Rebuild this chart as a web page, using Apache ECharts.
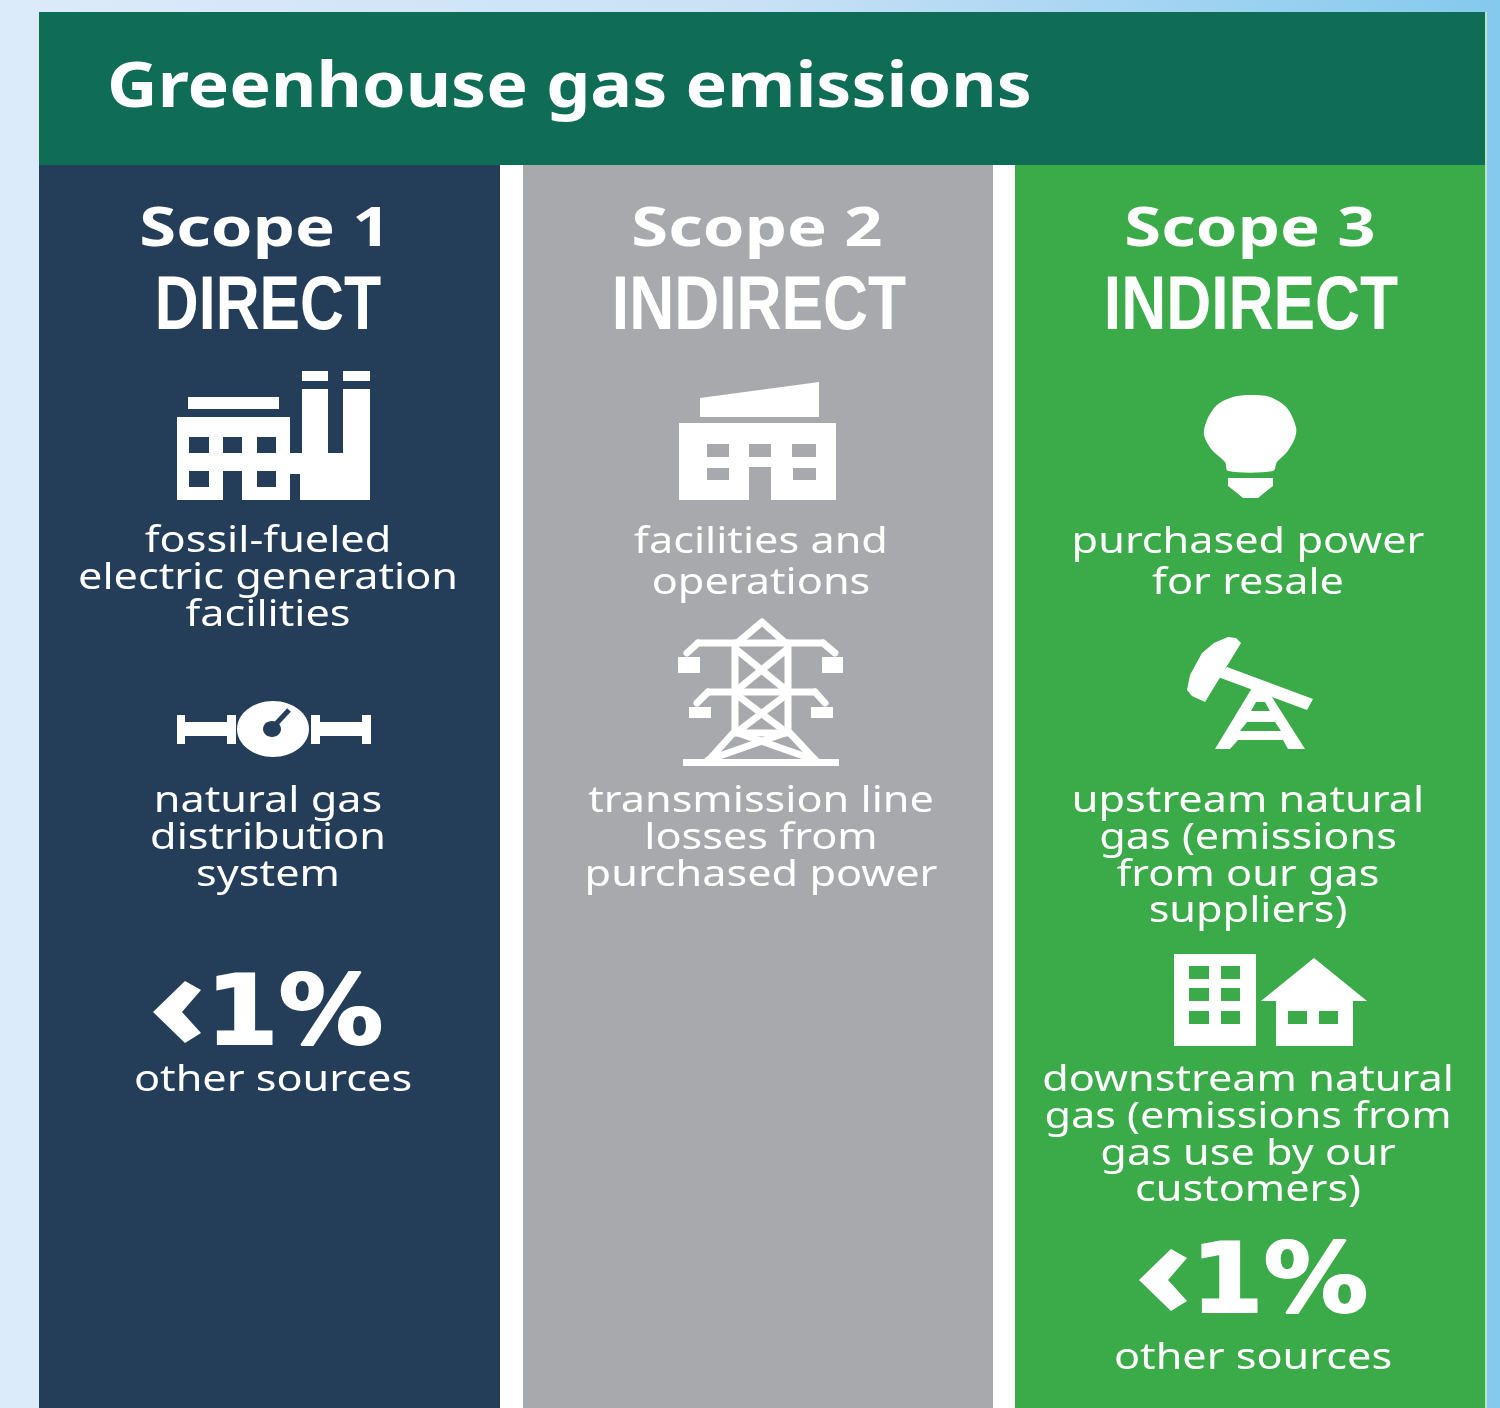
<!DOCTYPE html>
<html>
<head>
<meta charset="utf-8">
<title>Greenhouse gas emissions</title>
<script src="https://cdn.jsdelivr.net/npm/echarts@6/dist/echarts.min.js"></script>
<style>
  html, body { margin: 0; padding: 0; background: #cfe5f6; }
  #main { width: 1500px; height: 1408px; }
</style>
</head>
<body>
<div id="main"></div>
<script>
// Texts of the infographic
const chartTitle = "Greenhouse gas emissions";
const scopeNames = ["Scope 1", "Scope 2", "Scope 3"];
const scopeTypes = ["DIRECT", "INDIRECT", "INDIRECT"];
const scope1Lines = ["fossil-fueled", "electric generation", "facilities", "natural gas", "distribution", "system"];
const scope2Lines = ["facilities and", "operations", "transmission line", "losses from", "purchased power"];
const scope3Lines = ["purchased power", "for resale", "upstream natural", "gas (emissions", "from our gas", "suppliers)",
  "downstream natural", "gas (emissions from", "gas use by our", "customers)"];
const otherShare = ["<", "1%"];
const otherLabel = "other sources";

// Colours
const WHITE = "#ffffff";
const NAVY = "#243e5a";
const GREY = "#a7a9ac";
const GREEN = "#3bab49";
const TITLE_GREEN = "#0f6d55";

// Helpers for the graphic elements
const box = (x, y, w, h, fill) => ({
  type: "rect", shape: { x: x, y: y, width: w, height: h }, style: { fill: fill },
});
const poly = (points, fill, smooth) => ({
  type: "polygon", shape: { points: points, smooth: smooth || 0 }, style: { fill: fill },
});
const line = (points, width) => ({
  type: "polyline", shape: { points: points },
  style: { stroke: WHITE, lineWidth: width, fill: null, lineCap: "round", lineJoin: "round" },
});
const label = (text, cx, cy, font, stretch, extra) => ({
  type: "text", x: cx, y: cy, scaleX: stretch,
  style: Object.assign({ text: text, font: font, fill: WHITE, align: "center", verticalAlign: "middle" }, extra || {}),
});

const elements = [];

// Page background, panels
elements.push({
  type: "rect", shape: { x: 0, y: 0, width: 1500, height: 1408 },
  style: {
    fill: new echarts.graphic.LinearGradient(0, 0, 1, 0, [
      { offset: 0, color: "#dcebf9" },
      { offset: 0.5, color: "#c9e1f6" },
      { offset: 1, color: "#84c9ee" },
    ]),
  },
});
elements.push(box(39, 12, 1448, 1396, "#b9e3c4"));
elements.push(box(39, 12, 1446, 153, TITLE_GREEN));
elements.push(box(39, 165, 461, 1243, NAVY));
elements.push(box(500, 165, 23, 1243, WHITE));
elements.push(box(523, 165, 470, 1243, GREY));
elements.push(box(993, 165, 22, 1243, WHITE));
elements.push(box(1015, 165, 470, 1243, GREEN));

// Title
elements.push({
  type: "text", x: 107, y: 89, scaleX: 1.128,
  style: { text: chartTitle, font: "bold 62px 'Noto Sans'", fill: WHITE, align: "left", verticalAlign: "middle" },
});

// Column headers
const columnCenters = [265, 757, 1250];
const typeCenters = [268, 759, 1251];
const typeStretch = [0.8, 0.82, 0.82];
scopeNames.forEach((name, i) => {
  elements.push(label(name, columnCenters[i], 231, "bold 54px 'Noto Sans'", 1.24));
  elements.push(label(scopeTypes[i], typeCenters[i], 308, "bold 76px 'Liberation Sans'", typeStretch[i]));
});

// Body lines
const BODY_FONT = "36px 'Noto Sans'";
const BODY_STRETCH = 1.2;
const scope1Y = [542, 579, 616, 802, 839, 876];
const scope2Y = [543, 584, 802, 839, 876];
const scope3Y = [543, 584, 802, 839, 876, 912, 1081, 1118, 1155, 1191];
scope1Lines.forEach((t, i) => elements.push(label(t, 268, scope1Y[i], BODY_FONT, BODY_STRETCH)));
scope2Lines.forEach((t, i) => elements.push(label(t, 761, scope2Y[i], BODY_FONT, BODY_STRETCH)));
scope3Lines.forEach((t, i) => elements.push(label(t, 1248, scope3Y[i], BODY_FONT, BODY_STRETCH)));

// "<1%" blocks: real text, the heavy chevron of the original laid over the "<"
const shareBlock = (cx, cy, dx, dy) => {
  elements.push({
    type: "text", x: cx, y: cy, scaleX: 1.09,
    style: {
      text: "{a|" + otherShare[0] + "}{b|" + otherShare[1] + "}",
      align: "center", verticalAlign: "middle", fill: WHITE,
      rich: {
        a: { fontFamily: "DejaVu Sans", fontWeight: "bold", fontSize: 14, width: 48.6, align: "center", fill: WHITE },
        b: { fontFamily: "DejaVu Sans", fontWeight: "bold", fontSize: 96, fill: WHITE, stroke: WHITE, lineWidth: 2 },
      },
    },
  });
  elements.push(poly([[153, 1012], [185, 981], [201, 990], [182, 1012], [201, 1033], [185, 1043]]
    .map((p) => [p[0] + dx, p[1] + dy]), WHITE));
};
shareBlock(268, 1019, 0, 0);
shareBlock(1253, 1287, 986, 268);
elements.push(label(otherLabel, 273, 1081, BODY_FONT, BODY_STRETCH));
elements.push(label(otherLabel, 1253, 1359, BODY_FONT, BODY_STRETCH));

// Factory icon
[[188, 397, 91, 12], [177, 417, 113, 83], [302, 371, 26, 10], [343, 371, 27, 10],
  [302, 389, 26, 70], [343, 389, 27, 70], [300, 453, 70, 47], [290, 453, 10, 21]]
  .forEach((r) => elements.push(box(r[0], r[1], r[2], r[3], WHITE)));
[[189, 437, 20, 16], [223, 437, 19, 16], [257, 437, 19, 16],
  [189, 471, 20, 16], [257, 471, 19, 16], [223, 471, 19, 29]]
  .forEach((r) => elements.push(box(r[0], r[1], r[2], r[3], NAVY)));

// Gas meter icon
[[177, 715, 8, 29], [185, 722, 42, 14], [227, 715, 9, 29], [311, 715, 9, 29], [320, 722, 42, 14], [362, 715, 9, 29]]
  .forEach((r) => elements.push(box(r[0], r[1], r[2], r[3], WHITE)));
elements.push({ type: "ellipse", shape: { cx: 273, cy: 729, rx: 36, ry: 28 }, style: { fill: WHITE } });
elements.push({ type: "ellipse", shape: { cx: 272, cy: 729, rx: 9, ry: 8 }, style: { fill: NAVY } });
elements.push({ type: "line", shape: { x1: 274, y1: 726, x2: 289, y2: 710 }, style: { stroke: NAVY, lineWidth: 5 } });

// Office icon
elements.push(poly([[700, 398], [819, 382], [819, 417], [700, 417]], WHITE));
elements.push(box(679, 423, 157, 77, WHITE));
[[707, 444, 22, 13], [749, 444, 22, 13], [792, 444, 24, 13], [707, 468, 22, 12], [793, 468, 23, 12], [749, 467, 22, 33]]
  .forEach((r) => elements.push(box(r[0], r[1], r[2], r[3], GREY)));

// Transmission tower icon
[
  [[735, 645], [762, 622], [788, 645]],
  [[735, 643], [735, 731], [708, 761]],
  [[788, 643], [788, 731], [816, 761]],
  [[698, 643], [823, 643]],
  [[698, 643], [687, 653]],
  [[823, 643], [835, 653]],
  [[708, 692], [815, 692]],
  [[708, 692], [697, 703]],
  [[815, 692], [825, 703]],
  [[737, 650], [786, 690]],
  [[786, 650], [737, 690]],
  [[737, 695], [786, 732]],
  [[786, 695], [737, 732]],
  [[735, 733], [788, 733]],
  [[738, 733], [815, 760]],
  [[785, 733], [708, 760]],
].forEach((p) => elements.push(line(p, 7)));
[[678, 657, 22, 16], [822, 657, 21, 16], [689, 707, 22, 11], [811, 707, 22, 11], [683, 759, 156, 7]]
  .forEach((r) => elements.push(box(r[0], r[1], r[2], r[3], WHITE)));

// Light bulb icon
elements.push(poly([[1250, 395], [1270, 397], [1287, 408], [1296, 427], [1295, 438], [1287, 452], [1277, 462], [1273, 471],
  [1228, 471], [1225, 462], [1212, 450], [1204, 435], [1207, 420], [1217, 405], [1233, 397]], WHITE, 0.3));
elements.push(poly([[1228, 478], [1273, 478], [1273, 486], [1264, 493], [1258, 498], [1243, 498], [1237, 493], [1228, 486]], WHITE));

// Pumpjack icon
elements.push(poly([[1252, 688], [1270, 694], [1305, 749], [1215, 749]], WHITE));
[[[1256, 702], [1265, 702], [1270, 711], [1251, 711]],
  [[1247, 722], [1275, 722], [1281, 731], [1240, 731]],
  [[1238, 740], [1283, 740], [1288, 749], [1230, 749]]]
  .forEach((p) => elements.push(poly(p, GREEN)));
elements.push(poly([[1227, 667], [1313, 699], [1307, 710], [1218, 677]], WHITE));
elements.push(poly([[1228, 637], [1236, 638], [1241, 643], [1205, 702], [1192, 696], [1187, 690], [1190, 675], [1202, 653], [1214, 643]], WHITE));

// Building and house icon
elements.push(box(1174, 954, 82, 92, WHITE));
[966, 988, 1011].forEach((y) => {
  elements.push(box(1189, y, 20, 13, GREEN));
  elements.push(box(1221, y, 19, 13, GREEN));
});
elements.push(poly([[1314, 958], [1367, 1001], [1353, 1001], [1353, 1046], [1276, 1046], [1276, 1001], [1261, 1001]], WHITE));
elements.push(box(1288, 1011, 19, 13, GREEN));
elements.push(box(1319, 1011, 19, 13, GREEN));

// Render the chart
const chart = echarts.init(document.getElementById("main"));
chart.setOption({
  animation: false,
  graphic: { elements: elements.map((el) => Object.assign({ silent: true }, el)) },
});
window.addEventListener("resize", () => chart.resize());
</script>
</body>
</html>
